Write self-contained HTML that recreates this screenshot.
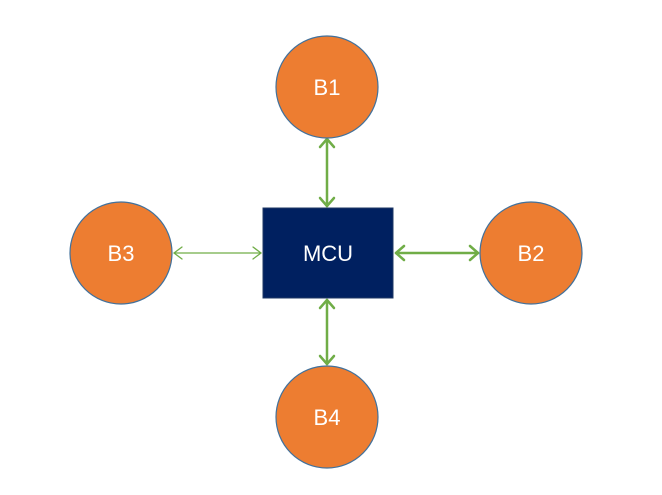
<!DOCTYPE html>
<html><head><style>body{margin:0;background:#fff}</style></head><body>
<svg width="662" height="490" viewBox="0 0 662 490" xmlns="http://www.w3.org/2000/svg" font-family="Liberation Sans, sans-serif">
<g stroke="#70AD47" fill="none" stroke-linecap="round" stroke-linejoin="round">
<g stroke-width="2.5">
<line x1="327" y1="139" x2="327" y2="206"/>
<polyline points="320,147 327,139 334,147"/><polyline points="320,198 327,206 334,198"/>
<line x1="327" y1="300" x2="327" y2="364"/>
<polyline points="320,308 327,300 334,308"/><polyline points="320,356 327,364 334,356"/>
<line x1="396" y1="253" x2="478" y2="253"/>
<polyline points="404,246 396,253 404,260"/><polyline points="470,246 478,253 470,260"/>
</g>
<g stroke-width="1.3">
<line x1="174" y1="253" x2="261" y2="253"/>
<polyline points="182,247 174,253 182,259"/><polyline points="253,247 261,253 253,259"/>
</g>
</g>
<g fill="#ED7D31" stroke="#41719C" stroke-width="1.2">
<circle cx="327" cy="87" r="51"/>
<circle cx="121" cy="253" r="51"/>
<circle cx="531" cy="253" r="51"/>
<circle cx="327" cy="417" r="51"/>
</g>
<rect x="263" y="208" width="130" height="90" fill="#002060" stroke="#1F3864"/>
<g fill="#fff" font-size="22" text-anchor="middle">
<text x="327" y="95">B1</text>
<text x="121" y="261">B3</text>
<text x="531" y="261">B2</text>
<text x="327" y="425">B4</text>
<text x="328" y="261">MCU</text>
</g>
</svg>
</body></html>
